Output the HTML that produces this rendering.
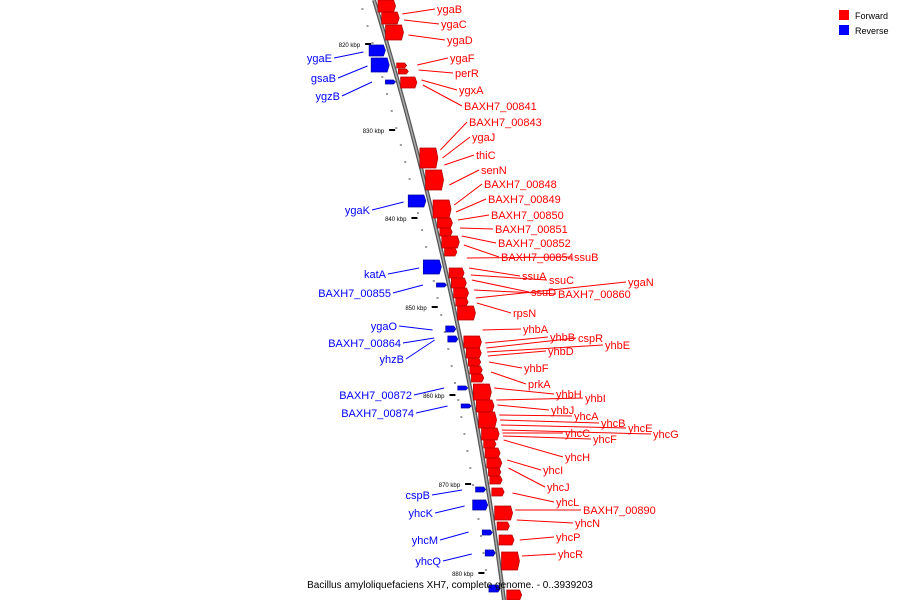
<!DOCTYPE html>
<html><head><meta charset="utf-8"><style>
body{margin:0;background:#fff;font-family:"Liberation Sans",sans-serif}
svg{display:block}
</style></head><body>
<svg id="c" width="900" height="600">
<g id="g"></g>
<g>
<rect x="839" y="10" width="10" height="10" fill="#ff0000"/>
<text x="855" y="19" font-size="9">Forward</text>
<rect x="839" y="25" width="10" height="10" fill="#0000ff"/>
<text x="855" y="34" font-size="9">Reverse</text>
</g>
<text x="450" y="588" font-size="10" text-anchor="middle">Bacillus amyloliquefaciens XH7, complete genome. - 0..3939203</text>
</svg>
<script>
const fwdStart=[0,12,25,63,69,77,148,170,200,218,228,236,248,268,278,288,298,306,336,348,358,366,374,384,400,412,428,440,448,458,468,476,488,506,522,535,552,590];
const fwdEnd=[12,24,40,68,74,88,168,190,218,228,236,248,256,278,288,298,306,320,348,358,366,374,382,400,412,428,440,448,458,468,476,484,496,520,530,545,570,600];
const revStart=[45,58,80,195,260,283,326,336,386,404,487,500,530,550,585];
const revEnd=[56,72,84,207,274,287,332,342,390,408,492,510,535,556,592];
const fwdLabels=["ygaB","ygaC","ygaD","ygaF","perR","ygxA","BAXH7_00841","BAXH7_00843","ygaJ","thiC","senN","BAXH7_00848","BAXH7_00849","BAXH7_00850","BAXH7_00851","BAXH7_00852","BAXH7_00854","ssuB","ssuA","ssuC","ssuD","BAXH7_00860","ygaN","rpsN","yhbA","yhbB","cspR","yhbE","yhbD","yhbF","prkA","yhbH","yhbI","yhbJ","yhcA","yhcB","yhcE","yhcG","yhcC","yhcF","yhcH","yhcI","yhcJ","yhcL","BAXH7_00890","yhcN","yhcP","yhcR"];
const fwdLabelX=[437,441,447,450,455,459,464,469,472,476,481,484,488,491,495,498,501,574,522,549,531,558,628,513,523,550,578,605,548,524,528,556,585,551,574,601,628,653,565,593,565,543,547,556,583,575,556,558];
const fwdLabelY=[9,24,40,58,73,90,106,122,137,155,170,184,199,215,229,243,257,257,276,280,292,294,282,313,329,337,338,345,351,368,384,394,398,410,416,423,428,434,433,439,457,470,487,502,510,523,537,554];
const fwdTarget=[14,20,35,65,70,80,85,150,158,165,185,205,212,220,228,236,245,258,268,275,280,290,298,303,330,343,348,352,356,362,372,388,400,405,415,420,425,430,433,436,440,460,468,493,510,520,540,556];
const revLabels=["ygaE","gsaB","ygzB","ygaK","katA","BAXH7_00855","ygaO","BAXH7_00864","yhzB","BAXH7_00872","BAXH7_00874","cspB","yhcK","yhcM","yhcQ"];
const revLabelX=[332,336,340,370,386,391,397,401,404,412,414,430,433,438,441];
const revLabelY=[58,78,96,210,274,293,326,343,359,395,413,495,513,540,561];
const revTarget=[52,66,82,202,268,285,330,338,340,388,406,490,506,532,554];
const tickKbp=[820,830,840,850,860,870,880];
const tickY=[44,130,218,307,395,484,573];

const NS="http://www.w3.org/2000/svg";
const g=document.getElementById('g');
function ax(y){return 374+0.3047*y-0.0001467*y*y;}
function mk(t,a){const e=document.createElementNS(NS,t);for(const k in a)e.setAttribute(k,a[k]);g.appendChild(e);return e;}
for(let y=8;y<600;y+=17){
  const d=mk('rect',{x:ax(y)-15,y:y,width:2,height:2,fill:'#999'});
  
  
}
const pts=[];for(let y=0;y<=600;y+=10)pts.push(ax(y)+','+y);
const axl=mk('polyline',{points:pts.join(' '),fill:'none',stroke:'#555',"stroke-width":4});


const axl2=mk('polyline',{points:pts.join(' '),fill:'none',stroke:'#aaa',"stroke-width":1.5});


tickKbp.forEach((k,i)=>{
  const y=tickY[i],x=ax(y);
  const t=mk('rect',{x:x-22,y:y-1,width:6,height:2,fill:'#000'});
  
  
  const l=mk('text',{x:x-27,y:y+3,"font-size":6,"text-anchor":"end",fill:'#000'});
  l.textContent=k+' kbp';
  
  
});
function block(y0,y1,fwd){
  const h=y1-y0,w=Math.min(16,Math.max(8,h*1.3));
  let x0,x1;
  if(fwd){x0=ax(y0)+4;x1=x0+w;}else{x1=ax(y0)-4;x0=x1-w;}
  const c=fwd?'#ff0000':'#0000ff',dk=fwd?'#b00000':'#0000a0';
  const p=mk('polygon',{points:`${x0},${y0} ${x1},${y0} ${x1+2},${y0+h*0.5} ${x1},${y1} ${x0},${y1}`,fill:c,stroke:dk,"stroke-width":0.7});
  return p;
}
fwdStart.forEach((s,i)=>{
  const p=block(s,fwdEnd[i],true);
  
  
});
revStart.forEach((s,i)=>{
  const p=block(s,revEnd[i],false);
  
  
});
fwdLabels.forEach((n,i)=>{
  const ty=fwdTarget[i];
  const ln=mk('line',{x1:ax(ty)+24,y1:ty,x2:fwdLabelX[i]-2,y2:fwdLabelY[i],stroke:'#ff0000',"stroke-width":1});
  
  
  const t=mk('text',{x:fwdLabelX[i],y:fwdLabelY[i]+4,"font-size":11,fill:'#ff0000'});
  t.textContent=n;
  
  
});
revLabels.forEach((n,i)=>{
  const ty=revTarget[i];
  const ln=mk('line',{x1:revLabelX[i]+2,y1:revLabelY[i],x2:ax(ty)-26,y2:ty,stroke:'#0000ff',"stroke-width":1});
  
  
  const t=mk('text',{x:revLabelX[i],y:revLabelY[i]+4,"font-size":11,fill:'#0000ff',"text-anchor":"end"});
  t.textContent=n;
  
  
});
</script>
</body></html>
